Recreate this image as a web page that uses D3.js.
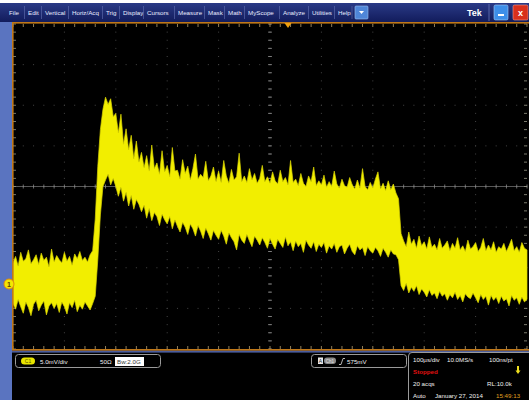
<!DOCTYPE html>
<html>
<head>
<meta charset="utf-8">
<script src="https://cdn.jsdelivr.net/npm/d3@7"></script>
<style>
  html, body { margin: 0; padding: 0; background: #fff; }
  svg { display: block; font-family: "Liberation Sans", Arial, sans-serif; }
</style>
</head>
<body>
<div id="scope"></div>
<script>
// --- data (CH1, 5.0mV/div, 100us/div) ---
var menuItems = ["File", "Edit", "Vertical", "Horiz/Acq", "Trig", "Display", "Cursors",
                 "Measure", "Mask", "Math", "MyScope", "Analyze", "Utilities", "Help"];
var menuX = [9, 28, 45, 72, 106, 123, 147, 178, 208, 228, 248, 283, 312, 338];

var sampleStepUs = 5;   // one envelope sample every 5us, 0..1000us
// upper edge of the trace, mV
var traceHi = [
  2.6, 3.4, 2.2, 3.9, 2.8, 3.1, 4.2, 2.5, 3.0, 3.6,
  2.4, 3.8, 2.9, 3.3, 2.1, 4.3, 2.7, 3.5, 3.0, 2.6,
  3.9, 2.8, 3.4, 2.3, 3.7, 3.1, 4.0, 2.9, 3.3, 2.7,
  3.6, 4.1,
  8.0, 14.5, 19.0, 21.5,
  23.0, 22.1, 22.8, 20.6,
  21.0, 18.6, 20.9, 17.2, 19.1, 16.5, 18.3, 15.4, 17.6, 15.0,
  16.2, 14.3, 15.8, 13.9, 17.1, 14.2, 14.9, 13.5, 16.4, 13.8,
  14.6, 13.2, 16.8, 13.9, 14.0, 12.9, 15.3, 13.6, 14.5, 12.8,
  14.2, 16.0, 12.9, 13.5, 13.1, 15.1, 12.7, 13.3, 14.4, 12.6,
  13.9, 12.5, 15.2, 13.3, 12.4, 14.1, 12.8, 13.2, 16.1, 12.6,
  13.3, 12.5, 14.2, 12.8, 13.6, 12.4, 13.0, 14.6, 12.6, 13.2,
  12.4, 13.8, 12.7, 12.3, 14.0, 12.6, 13.1, 12.2, 15.2, 12.5,
  12.9, 12.1, 13.6, 12.4, 12.0, 13.3, 12.6, 14.4, 12.1, 12.7,
  12.2, 13.4, 11.9, 12.6, 12.0, 13.9, 12.3, 11.8, 12.9, 12.1,
  11.9, 13.1, 12.2, 11.7, 12.8, 11.8, 14.2, 12.0, 11.6, 12.5,
  11.8, 12.9, 13.8, 11.7, 12.4, 11.5, 12.7, 11.6, 12.3, 11.2,
  10.5,
  6.2, 5.3, 4.6, 6.4, 4.9, 5.5, 4.4, 5.9, 4.7,
  5.2, 4.3, 5.8, 4.5, 4.9, 4.2, 5.6, 4.4, 4.8, 5.3,
  4.1, 5.0, 4.4, 5.7, 4.2, 4.7, 4.0, 5.4, 4.3, 4.6,
  5.1, 4.0, 4.5, 5.6, 4.1, 4.8, 4.2, 5.2, 3.9, 4.6,
  4.3, 5.0, 4.0, 4.7, 5.5, 4.1, 4.6, 3.9, 5.1, 4.4,
  4.2
];
// lower edge of the trace, mV
var traceLo = [
  -2.4, -3.1, -1.9, -2.8, -3.6, -2.2, -2.9, -3.9, -2.5, -2.0,
  -3.3, -2.6, -2.1, -3.8, -2.7, -2.3, -3.0, -2.4, -3.5, -2.2,
  -2.8, -3.7, -2.3, -2.9, -2.0, -3.4, -2.6, -3.1, -2.2, -2.7,
  -3.2, -2.4,
  -1.5, 3.0, 8.5, 12.0,
  12.8, 13.5, 12.2, 13.0,
  12.0, 10.8, 11.9, 10.2, 11.3, 9.6, 10.9, 9.2, 10.4, 9.8,
  8.9, 9.7, 8.1, 9.3, 7.8, 8.8, 8.3, 7.2, 8.6, 7.9,
  7.4, 8.3, 6.8, 7.9, 7.1, 6.4, 7.6, 7.0, 6.1, 7.4,
  6.8, 5.9, 7.2, 6.5, 5.6, 6.9, 6.2, 5.4, 6.6, 6.0,
  5.5, 6.6, 5.9, 4.9, 6.3, 5.7, 5.2, 4.2, 6.1, 5.4,
  5.0, 6.1, 5.3, 4.6, 5.9, 5.4, 4.8, 5.7, 5.1, 4.4,
  5.6, 4.9, 4.3, 5.5, 5.0, 4.5, 5.8, 4.7, 5.2, 4.1,
  5.3, 4.6, 5.0, 3.9, 5.4, 4.8, 4.4, 5.2, 4.0, 4.9,
  4.5, 5.1, 3.8, 4.7, 4.3, 5.0, 3.9, 4.6, 4.8, 3.7,
  4.4, 4.9, 4.0, 3.6, 4.7, 4.2, 4.5, 3.5, 4.6, 4.1,
  3.8, 4.5, 4.1, 3.4, 4.4, 3.9, 3.3, 4.2, 3.7, 3.6,
  3.0,
  -0.2, -0.8, 0.1, -1.1, -0.4, -0.9, -0.2, -1.3, -0.6,
  -1.0, -1.6, -0.7, -1.4, -1.1, -1.8, -0.9, -1.5, -1.2, -2.0,
  -1.3, -1.7, -1.0, -1.9, -1.4, -2.2, -1.2, -1.6, -1.8, -1.1,
  -1.7, -2.3, -1.3, -1.9, -1.5, -2.6, -1.4, -2.0, -1.6, -2.4,
  -1.5, -2.1, -1.8, -2.7, -1.4, -2.0, -1.7, -2.5, -1.6, -2.2,
  -1.9
];

var chLabel = "C1", voltsDiv = "5.0mV/div", termLabel = "50\u03a9", bwLabel = "Bw:2.0G";
var trigSource = "Ch1", trigLevel = "575mV";
var statusRows = [
  [{t: "100\u00b5s/div", x: 413}, {t: "10.0MS/s", x: 447}, {t: "100ns/pt", x: 489}],
  [{t: "Stopped", x: 413, c: "#e01010"}],
  [{t: "20 acqs", x: 413}, {t: "RL:10.0k", x: 487}],
  [{t: "Auto", x: 413}, {t: "January 27, 2014", x: 435}, {t: "15:49:13", x: 496, c: "#e0a020"}]
];

var W = 529, H = 400;
var plot = {left: 13, top: 24, right: 527, bottom: 349};

var svg = d3.select("#scope").append("svg").attr("width", W).attr("height", H);

// window chrome
svg.append("rect").attr("width", W).attr("height", H).attr("fill", "#000");
svg.append("rect").attr("width", W).attr("height", 3).attr("fill", "#fff");
svg.append("rect").attr("x", 0).attr("y", 3).attr("width", 12).attr("height", H - 3).attr("fill", "#5a74c0");

var grad = svg.append("defs").append("linearGradient").attr("id", "menuGrad")
    .attr("x1", 0).attr("y1", 0).attr("x2", 0).attr("y2", 1);
grad.append("stop").attr("offset", "0%").attr("stop-color", "#2a3a86");
grad.append("stop").attr("offset", "100%").attr("stop-color", "#121c5c");

var menu = svg.append("g");
menu.append("rect").attr("x", 0).attr("y", 3).attr("width", W).attr("height", 19).attr("fill", "url(#menuGrad)");
menu.selectAll("text.item").data(menuItems).enter().append("text")
    .attr("class", "item")
    .attr("x", function(d, i) { return menuX[i]; })
    .attr("y", 15)
    .attr("fill", "#e8ecff")
    .attr("font-size", 6.2)
    .text(function(d) { return d; });
menu.selectAll("line.sep").data(menuX.slice(1)).enter().append("line")
    .attr("class", "sep")
    .attr("x1", function(d) { return d - 3.5; }).attr("x2", function(d) { return d - 3.5; })
    .attr("y1", 6).attr("y2", 19)
    .attr("stroke", "#5866a8").attr("stroke-width", 0.7);
menu.append("line").attr("x1", 352).attr("x2", 352).attr("y1", 6).attr("y2", 19)
    .attr("stroke", "#5866a8").attr("stroke-width", 0.7);
menu.append("rect").attr("x", 355).attr("y", 6).attr("width", 13).attr("height", 13).attr("rx", 1)
    .attr("fill", "#4f86d8").attr("stroke", "#9cc0f0").attr("stroke-width", 0.6);
menu.append("path").attr("d", "M359 11 L364 11 L361.5 14 Z").attr("fill", "#fff");
menu.append("text").attr("x", 467).attr("y", 16).attr("fill", "#fff")
    .attr("font-size", 9).attr("font-weight", "bold").text("Tek");
menu.append("line").attr("x1", 489).attr("x2", 489).attr("y1", 4).attr("y2", 21).attr("stroke", "#5866a8");
menu.append("rect").attr("x", 494).attr("y", 5).attr("width", 14).attr("height", 15).attr("rx", 1.5)
    .attr("fill", "#3d8ee8").attr("stroke", "#a8cdf4").attr("stroke-width", 0.6);
menu.append("rect").attr("x", 498).attr("y", 14).attr("width", 6).attr("height", 2).attr("fill", "#fff");
menu.append("rect").attr("x", 513).attr("y", 5).attr("width", 15).attr("height", 15).attr("rx", 1.5)
    .attr("fill", "#d8301c").attr("stroke", "#f0a090").attr("stroke-width", 0.6);
menu.append("text").attr("x", 520.5).attr("y", 16).attr("text-anchor", "middle").attr("fill", "#fff")
    .attr("font-size", 9).attr("font-weight", "bold").text("x");

// scales: 10 div x 100us, 8 div x 5mV with ground 2.4 div below centre
var x = d3.scaleLinear().domain([0, 1000]).range([plot.left, plot.right]);
var y = d3.scaleLinear().domain([-8, 32]).range([plot.bottom, plot.top]);

// graticule
var grid = svg.append("g");
var divX = d3.range(0, 1001, 100), divY = d3.range(-8, 33, 5);
var minorX = d3.range(0, 1001, 20), minorY = d3.range(-8, 33, 1);
divX.slice(1, -1).forEach(function(t) {
  grid.selectAll(null).data(minorY).enter().append("rect")
      .attr("x", x(t) - 0.5).attr("y", function(v) { return y(v) - 0.5; })
      .attr("width", 1).attr("height", 1)
      .attr("fill", t === 500 ? "#8a8a8a" : "#444");
});
divY.slice(1, -1).forEach(function(v) {
  grid.selectAll(null).data(minorX).enter().append("rect")
      .attr("x", function(t) { return x(t) - 0.5; }).attr("y", y(v) - 0.5)
      .attr("width", 1).attr("height", 1)
      .attr("fill", "#444");
});
// centre lines
grid.append("line").attr("x1", plot.left).attr("x2", plot.right).attr("y1", y(12)).attr("y2", y(12))
    .attr("stroke", "#6e6e6e").attr("stroke-width", 0.8);
grid.selectAll("line.cx").data(minorX).enter().append("line").attr("class", "cx")
    .attr("x1", function(t) { return x(t); }).attr("x2", function(t) { return x(t); })
    .attr("y1", y(12) - 2).attr("y2", y(12) + 2).attr("stroke", "#8a8a8a").attr("stroke-width", 0.8);
grid.selectAll("line.cy").data(minorY).enter().append("line").attr("class", "cy")
    .attr("x1", x(500) - 2).attr("x2", x(500) + 2)
    .attr("y1", function(v) { return y(v); }).attr("y2", function(v) { return y(v); })
    .attr("stroke", "#8a8a8a").attr("stroke-width", 0.8);
// edge ticks
grid.selectAll("line.tt").data(minorX).enter().append("line").attr("class", "tt")
    .attr("x1", function(t) { return x(t); }).attr("x2", function(t) { return x(t); })
    .attr("y1", plot.top).attr("y2", plot.top + 3).attr("stroke", "#b8a070").attr("stroke-width", 0.8);
grid.selectAll("line.bt").data(minorX).enter().append("line").attr("class", "bt")
    .attr("x1", function(t) { return x(t); }).attr("x2", function(t) { return x(t); })
    .attr("y1", plot.bottom - 3).attr("y2", plot.bottom).attr("stroke", "#b8a070").attr("stroke-width", 0.8);
grid.selectAll("line.lt").data(minorY).enter().append("line").attr("class", "lt")
    .attr("x1", plot.left).attr("x2", plot.left + 3)
    .attr("y1", function(v) { return y(v); }).attr("y2", function(v) { return y(v); })
    .attr("stroke", "#9a9a8a").attr("stroke-width", 0.8);
grid.selectAll("line.rt").data(minorY).enter().append("line").attr("class", "rt")
    .attr("x1", plot.right - 3).attr("x2", plot.right)
    .attr("y1", function(v) { return y(v); }).attr("y2", function(v) { return y(v); })
    .attr("stroke", "#9a9a8a").attr("stroke-width", 0.8);

// trace
var n = Math.min(traceHi.length, traceLo.length);
var pts = d3.range(n);
var area = d3.area()
    .x(function(i) { return x(i * sampleStepUs); })
    .y0(function(i) { return y(traceLo[i]); })
    .y1(function(i) { return y(traceHi[i]); });
svg.append("path").datum(pts).attr("d", area)
    .attr("fill", "#f2ee00").attr("stroke", "#d8d400").attr("stroke-width", 0.7);

// frame
svg.append("rect").attr("x", 12).attr("y", 22).attr("width", W - 11).attr("height", 1.6).attr("fill", "#c07818");
svg.append("rect").attr("x", 12).attr("y", 22).attr("width", 1.6).attr("height", plot.bottom - 21).attr("fill", "#c07818");
svg.append("rect").attr("x", 12).attr("y", plot.bottom).attr("width", W - 12).attr("height", 1.8).attr("fill", "#c07818");
svg.append("rect").attr("x", 12).attr("y", plot.bottom + 1.8).attr("width", W - 12).attr("height", 1.8).attr("fill", "#4a5c9c");

// trigger position marker and ground marker
svg.append("path").attr("d", "M" + (x(535) - 3.5) + " 23 L" + (x(535) + 3.5) + " 23 L" + x(535) + " 28 Z")
    .attr("fill", "#f0a010");
svg.append("circle").attr("cx", 9).attr("cy", y(0)).attr("r", 5)
    .attr("fill", "#f4e800").attr("stroke", "#e08a10").attr("stroke-width", 1);
svg.append("text").attr("x", 9).attr("y", y(0) + 2.5).attr("text-anchor", "middle")
    .attr("font-size", 7).attr("font-weight", "bold").attr("fill", "#604000").text("1");

// bottom readouts
var info = svg.append("g").attr("font-size", 6.2).attr("fill", "#f0f0f0");
info.append("rect").attr("x", 15.5).attr("y", 354.5).attr("width", 145).attr("height", 13).attr("rx", 3)
    .attr("fill", "none").attr("stroke", "#9a9a9a");
info.append("rect").attr("x", 21).attr("y", 357.5).attr("width", 14).attr("height", 7).attr("rx", 3.5).attr("fill", "#e8e400");
info.append("text").attr("x", 28).attr("y", 363.2).attr("text-anchor", "middle").attr("font-size", 5)
    .attr("fill", "#5a5000").text(chLabel);
info.append("text").attr("x", 40).attr("y", 363.5).text(voltsDiv);
info.append("text").attr("x", 100).attr("y", 363.5).text(termLabel);
info.append("rect").attr("x", 115).attr("y", 357).attr("width", 29).attr("height", 9).attr("fill", "#fff");
info.append("text").attr("x", 117).attr("y", 364).attr("fill", "#333").text(bwLabel);

info.append("rect").attr("x", 311.5).attr("y", 354.5).attr("width", 95).attr("height", 13).attr("rx", 3)
    .attr("fill", "none").attr("stroke", "#9a9a9a");
info.append("rect").attr("x", 318).attr("y", 357.5).attr("width", 5).attr("height", 6.5).attr("fill", "#e8e8e8");
info.append("text").attr("x", 320.5).attr("y", 363).attr("text-anchor", "middle").attr("font-size", 5)
    .attr("fill", "#222").text("A");
info.append("rect").attr("x", 324).attr("y", 357.5).attr("width", 12).attr("height", 6.5).attr("rx", 3).attr("fill", "#8a8a8a");
info.append("text").attr("x", 330).attr("y", 362.8).attr("text-anchor", "middle").attr("font-size", 4.5)
    .attr("fill", "#e0e0e0").text(trigSource);
info.append("path").attr("d", "M339 364.5 L341 364.5 L343 358.5 L345 358.5").attr("fill", "none")
    .attr("stroke", "#e0e0e0").attr("stroke-width", 0.8);
info.append("text").attr("x", 347).attr("y", 363.5).text(trigLevel);

info.append("path").attr("d", "M408.5 400 L408.5 356 Q408.5 352.5 412 352.5 L529 352.5")
    .attr("fill", "none").attr("stroke", "#9a9a9a");
statusRows.forEach(function(row, r) {
  info.selectAll(null).data(row).enter().append("text")
      .attr("x", function(d) { return d.x; })
      .attr("y", 362 + r * 12)
      .attr("fill", function(d) { return d.c || "#f0f0f0"; })
      .attr("font-weight", function(d) { return d.c === "#e01010" ? "bold" : null; })
      .text(function(d) { return d.t; });
});
// single-acq arrow icon
info.append("rect").attr("x", 517).attr("y", 366).attr("width", 2).attr("height", 5).attr("fill", "#f0e020");
info.append("path").attr("d", "M515.5 370.5 L520.5 370.5 L518 374 Z").attr("fill", "#f0e020");
</script>
</body>
</html>
